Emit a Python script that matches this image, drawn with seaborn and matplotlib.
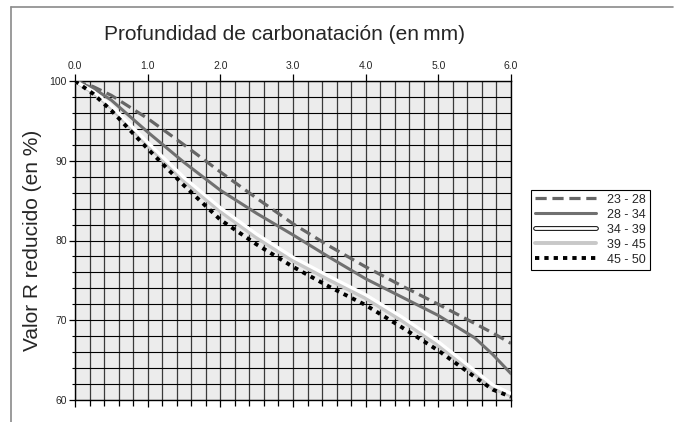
import matplotlib
matplotlib.use('Agg')
import matplotlib.pyplot as plt
import matplotlib.patheffects as pe
import numpy as np
import seaborn as sns
from matplotlib.lines import Line2D
from matplotlib.ticker import MultipleLocator, FormatStrFormatter

# depth of carbonation (mm)
depth = [0, 0.25, 0.5, 1.0, 1.5, 2.0, 2.5, 3.0, 3.5, 4.0, 4.5, 5.0, 5.5, 5.75, 6.0]

# reduced R value (%) per age group
r_23_28 = [100, 99.3, 98.2, 95.3, 92.0, 88.6, 85.3, 82.1, 79.3, 76.7, 74.3, 72.0, 69.6, 68.4, 67.1]
r_28_34 = [100, 99.1, 97.6, 93.6, 89.8, 86.3, 83.4, 80.7, 77.9, 75.2, 72.9, 70.6, 67.8, 65.7, 63.3]
r_34_39 = [100, 98.7, 96.9, 92.3, 87.9, 84.1, 80.8, 77.9, 75.5, 73.2, 70.4, 67.3, 63.7, 61.9, 60.8]
r_39_45 = [100, 98.6, 96.7, 92.0, 87.5, 83.7, 80.4, 77.5, 75.1, 72.8, 70.0, 66.9, 63.3, 61.5, 60.6]
r_45_50 = [100, 98.4, 96.3, 91.5, 86.9, 82.6, 79.5, 76.7, 74.2, 71.9, 69.1, 66.2, 62.9, 61.3, 60.4]

labels = ['23 - 28', '28 - 34', '34 - 39', '39 - 45', '45 - 50']

sns.set_style('white')
plt.rcParams['font.family'] = ['Liberation Sans', 'DejaVu Sans']

fig = plt.figure(figsize=(6.8, 4.22), dpi=100)
ax = fig.add_axes([75 / 680, 1 - 400 / 422, 436 / 680, 319 / 422])
ax.set_facecolor('#ececec')

styles = [
    dict(color='#666666', linewidth=2.3, linestyle=(0, (3.5, 1.8)), zorder=5),
    dict(color='#707070', linewidth=2.2, linestyle='-', zorder=5),
    dict(color='white', linewidth=2.4, linestyle='-', zorder=5),
    dict(color='#c8c8c8', linewidth=3.2, linestyle='-', zorder=4),
    dict(color='black', linewidth=2.8, linestyle=(0, (1.1, 1.3)), zorder=6),
]
series = [r_23_28, r_28_34, r_34_39, r_39_45, r_45_50]
for vals, st in zip(series, styles):
    sns.lineplot(x=depth, y=vals, ax=ax, **st)

ax.set_xlim(0, 6)
ax.set_ylim(60, 100)
ax.xaxis.set_major_locator(MultipleLocator(1.0))
ax.xaxis.set_minor_locator(MultipleLocator(0.2))
ax.xaxis.set_major_formatter(FormatStrFormatter('%.1f'))
ax.yaxis.set_major_locator(MultipleLocator(10))
ax.yaxis.set_minor_locator(MultipleLocator(2))

ax.grid(which='both', axis='x', color='#3a3a3a', linewidth=0.9, zorder=1)
ax.grid(which='both', axis='y', color='black', linewidth=0.8, zorder=1)
ax.set_axisbelow(True)

ax.tick_params(axis='x', which='major', top=True, bottom=True, labeltop=True,
               labelbottom=False, length=5, width=0.9, color='black',
               labelsize=7.5, pad=2, direction='out')
ax.tick_params(axis='x', which='minor', top=False, bottom=True, length=4,
               width=0.9, color='black', direction='out')
ax.tick_params(axis='y', which='major', left=True, length=4, width=0.9,
               color='black', labelsize=7.5, pad=2, direction='out')
ax.tick_params(axis='y', which='minor', left=True, length=2, width=0.8,
               color='black', direction='out')
ax.set_xlabel('')
ax.set_ylabel('')
for s in ax.spines.values():
    s.set_color('black')
    s.set_linewidth(1.0)

fig.text(285 / 680, 1 - 35 / 422, 'Profundidad de carbonatación (en\u2009mm)',
         fontsize=15, ha='center', va='center')
fig.text(33 / 680, 1 - 240 / 422, 'Valor R reducido (en %)', fontsize=15,
         rotation=90, ha='center', va='center')

# legend handles
handles = []
for st in styles:
    h = Line2D([], [], color=st['color'], linewidth=st['linewidth'],
               linestyle=st['linestyle'])
    handles.append(h)
handles[2] = Line2D([], [], color='white', linewidth=2.0,
                    path_effects=[pe.Stroke(linewidth=3.4, foreground='black'), pe.Normal()])
handles[3].set_linewidth(2.8)
leg = fig.legend(handles, labels, loc='upper left', bbox_to_anchor=(531 / 680, 1 - 190 / 422),
                 bbox_transform=fig.transFigure, fontsize=9, handlelength=4.9,
                 handletextpad=0.9, labelspacing=0.24, borderpad=0.3, borderaxespad=0,
                 fancybox=False, frameon=True, framealpha=1)
leg.get_frame().set_edgecolor('black')
leg.get_frame().set_linewidth(0.8)

# outer frame (top and left edges)
fig.add_artist(Line2D([11 / 680, 673 / 680], [1 - 7 / 422, 1 - 7 / 422],
                      transform=fig.transFigure, color='#8a8a8a', linewidth=1.2))
fig.add_artist(Line2D([11 / 680, 11 / 680], [1 - 7 / 422, 0],
                      transform=fig.transFigure, color='#8a8a8a', linewidth=1.2))

fig.savefig('out.png', dpi=100)
